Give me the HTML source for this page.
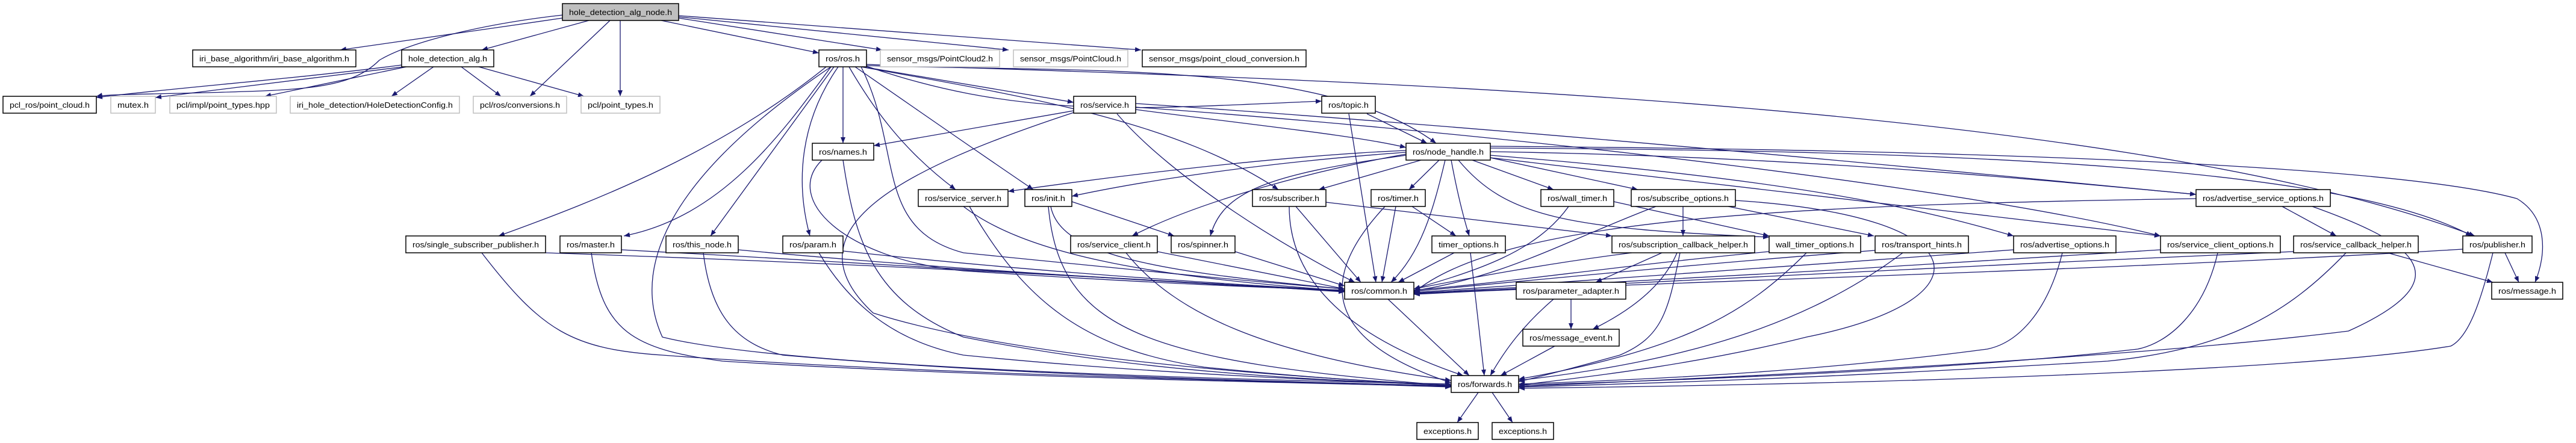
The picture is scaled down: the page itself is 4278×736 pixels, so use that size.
<!DOCTYPE html>
<html><head><meta charset="utf-8"><style>
html,body{margin:0;padding:0;background:#fff;}
svg{display:block;}
.e{fill:none;stroke:#191970;stroke-width:1.3;marker-end:url(#ah);}
.n rect{fill:#fff;stroke:#000;stroke-width:1.5;}
.g rect{fill:#fff;stroke:#bfbfbf;stroke-width:1.5;}
.t rect{fill:#bfbfbf;stroke:#000;stroke-width:1.5;}
text{font-family:"Liberation Sans",sans-serif;font-size:13px;fill:#000;text-anchor:middle;}
</style></head><body>
<svg width="4278" height="736" viewBox="0 0 4278 736" xmlns="http://www.w3.org/2000/svg">
<defs><marker id="ah" markerUnits="userSpaceOnUse" markerWidth="11" markerHeight="9" refX="10" refY="4" orient="auto"><path d="M0,0 L10,4 L0,8 z" fill="#191970"/></marker></defs>
<g>
<path class="e" d="M934 30 C800 50 650 70 565 83"/>
<path class="e" d="M978 34 L800 83"/>
<path class="e" d="M934 25 C800 40 680 70 630 100 C580 150 500 150 300 155 C200 157 170 158 160 160"/>
<path class="e" d="M1013 34 L880 160"/>
<path class="e" d="M1030 34 L1030 160"/>
<path class="e" d="M1098 34 L1360 88"/>
<path class="e" d="M1127 30 L1465 83"/>
<path class="e" d="M1127 28 L1675 83"/>
<path class="e" d="M1127 26 L1895 83"/>
<path class="e" d="M667 108 C500 130 300 145 160 162"/>
<path class="e" d="M670 111 L258 162"/>
<path class="e" d="M675 111 L440 160"/>
<path class="e" d="M720 111 L650 160"/>
<path class="e" d="M766 111 L832 160"/>
<path class="e" d="M795 111 L970 160"/>
<path class="e" d="M1372 111 C1200 250 1000 330 828 392"/>
<path class="e" d="M1380 111 C1300 220 1200 360 1036 392"/>
<path class="e" d="M1385 111 L1180 392"/>
<path class="e" d="M1400 111 L1400 238"/>
<path class="e" d="M1392 111 C1330 200 1320 300 1345 392"/>
<path class="e" d="M1410 111 C1450 180 1500 250 1587 315"/>
<path class="e" d="M1420 111 C1520 180 1620 250 1716 315"/>
<path class="e" d="M1439 112 L1783 170"/>
<path class="e" d="M1439 110 C1700 200 1900 180 2195 168"/>
<path class="e" d="M1439 109 C1800 120 2200 100 2385 238"/>
<path class="e" d="M1430 111 C1700 160 1950 200 2123 315"/>
<path class="e" d="M1439 107 C2100 130 3500 160 4110 392"/>
<path class="e" d="M1430 111 C1500 250 1450 380 1600 420 C1900 450 2100 470 2233 480"/>
<path class="e" d="M1380 111 C1100 300 1050 450 1100 560 C1300 610 2000 630 2410 638"/>
<path class="e" d="M1783 184 L1451 242"/>
<path class="e" d="M1886 182 C2100 210 2250 225 2335 245"/>
<path class="e" d="M1855 189 C1950 300 2150 420 2250 469"/>
<path class="e" d="M1783 187 C1500 280 1300 380 1450 520 C1700 600 2200 630 2410 640"/>
<path class="e" d="M1886 178 C2600 230 3300 320 3588 392"/>
<path class="e" d="M1886 172 C2600 220 3300 290 3647 323"/>
<path class="e" d="M2270 189 L2370 238"/>
<path class="e" d="M2240 189 L2285 469"/>
<path class="e" d="M1365 266 C1300 330 1400 430 1600 450 C1900 470 2100 478 2233 482"/>
<path class="e" d="M1400 266 C1420 400 1450 500 1600 560 C1900 620 2200 632 2410 640"/>
<path class="e" d="M2360 266 L2190 315"/>
<path class="e" d="M2390 266 L2340 315"/>
<path class="e" d="M2445 266 L2580 315"/>
<path class="e" d="M2475 262 L2720 315"/>
<path class="e" d="M2335 250 C2100 260 1800 300 1674 318"/>
<path class="e" d="M2335 253 C2100 270 1900 300 1780 326"/>
<path class="e" d="M2335 256 C2200 280 2000 330 1880 392"/>
<path class="e" d="M2335 258 C2100 290 2030 320 2010 392"/>
<path class="e" d="M2410 266 C2420 320 2430 360 2440 392"/>
<path class="e" d="M2422 266 C2500 360 2600 380 2938 394"/>
<path class="e" d="M2475 252 C3000 260 3400 300 3647 323"/>
<path class="e" d="M2475 258 C3000 300 3200 350 3344 392"/>
<path class="e" d="M2475 262 C3000 320 3300 360 3588 392"/>
<path class="e" d="M2475 246 C3300 250 3900 280 4105 392"/>
<path class="e" d="M2475 243 C3400 250 4000 280 4180 330 C4230 360 4230 420 4210 469"/>
<path class="e" d="M2400 266 C2380 350 2360 420 2310 469"/>
<path class="e" d="M1600 343 C1700 420 1900 460 2233 483"/>
<path class="e" d="M1610 343 C1700 500 1800 580 2000 610 C2200 630 2300 635 2410 640"/>
<path class="e" d="M1780 335 L1950 392"/>
<path class="e" d="M1745 343 C1760 420 1900 450 2233 480"/>
<path class="e" d="M1741 343 C1760 550 1900 600 2410 641"/>
<path class="e" d="M2202 336 L2677 392"/>
<path class="e" d="M2152 343 L2260 469"/>
<path class="e" d="M2141 343 C2141 500 2300 580 2430 624"/>
<path class="e" d="M2345 343 L2418 392"/>
<path class="e" d="M2318 343 L2295 469"/>
<path class="e" d="M2300 343 C2200 450 2180 560 2410 636"/>
<path class="e" d="M2680 335 L2938 392"/>
<path class="e" d="M2605 343 C2550 420 2450 450 2348 480"/>
<path class="e" d="M2795 343 L2795 392"/>
<path class="e" d="M2870 343 L3112 392"/>
<path class="e" d="M2750 343 C2600 400 2500 460 2348 483"/>
<path class="e" d="M2882 333 C3300 360 3300 500 3000 560 C2800 610 2600 630 2522 640"/>
<path class="e" d="M3790 343 L3880 392"/>
<path class="e" d="M3647 330 C3000 340 2500 360 2348 486"/>
<path class="e" d="M3840 343 C4000 400 4100 460 3900 550 C3500 600 2800 630 2522 642"/>
<path class="e" d="M906 420 C1500 440 2000 470 2233 485"/>
<path class="e" d="M800 420 C900 550 950 580 1100 590 C1500 620 2000 630 2410 643"/>
<path class="e" d="M1032 415 C1500 440 2000 470 2233 484"/>
<path class="e" d="M982 420 C1000 550 1050 580 1200 600 C1600 625 2100 635 2410 642"/>
<path class="e" d="M1226 415 C1600 450 2000 472 2233 484"/>
<path class="e" d="M1168 420 C1180 520 1220 570 1300 590 C1700 625 2100 633 2410 641"/>
<path class="e" d="M1400 417 C1700 450 2000 470 2233 483"/>
<path class="e" d="M1360 420 C1420 520 1500 570 1600 590 C1900 620 2200 632 2410 640"/>
<path class="e" d="M1922 418 L2233 480"/>
<path class="e" d="M1870 420 C1950 520 2100 590 2410 632"/>
<path class="e" d="M2051 418 L2233 475"/>
<path class="e" d="M2415 420 L2322 469"/>
<path class="e" d="M2442 420 L2465 624"/>
<path class="e" d="M2760 420 L2650 469"/>
<path class="e" d="M2785 420 C2760 480 2700 520 2645 547"/>
<path class="e" d="M2710 420 C2550 440 2400 470 2348 480"/>
<path class="e" d="M2790 420 C2770 520 2760 560 2690 590 C2600 615 2540 630 2522 634"/>
<path class="e" d="M2938 418 C2700 440 2500 470 2348 482"/>
<path class="e" d="M3000 420 C2900 520 2800 580 2522 630"/>
<path class="e" d="M3114 416 C2800 440 2500 470 2348 484"/>
<path class="e" d="M3160 420 C3000 540 2800 600 2522 632"/>
<path class="e" d="M3344 415 C3000 440 2600 470 2348 486"/>
<path class="e" d="M3425 420 C3400 520 3350 570 3300 580 C3000 620 2700 632 2522 638"/>
<path class="e" d="M3588 415 C3200 440 2700 470 2348 487"/>
<path class="e" d="M3683 420 C3660 520 3600 570 3550 580 C3200 620 2700 634 2522 640"/>
<path class="e" d="M3965 420 L4140 469"/>
<path class="e" d="M3809 418 C3300 440 2700 470 2348 488"/>
<path class="e" d="M3896 420 C3800 520 3700 580 3500 600 C3000 630 2700 638 2522 643"/>
<path class="e" d="M4160 420 L4183 469"/>
<path class="e" d="M4090 414 C3500 450 2700 470 2348 489"/>
<path class="e" d="M4140 420 C4120 500 4100 560 4070 575 C3800 620 3000 640 2522 645"/>
<path class="e" d="M2305 497 L2440 624"/>
<path class="e" d="M2609 497 L2609 547"/>
<path class="e" d="M2580 497 C2530 540 2500 580 2475 624"/>
<path class="e" d="M2582 575 L2492 624"/>
<path class="e" d="M2455 652 L2420 702"/>
<path class="e" d="M2478 652 L2512 702"/>
</g>
<g class="t"><rect x="934" y="6" width="193" height="28"/><text x="1030.5" y="25" textLength="171" lengthAdjust="spacingAndGlyphs">hole_detection_alg_node.h</text></g>
<g class="n"><rect x="320" y="83" width="271" height="28"/><text x="455.5" y="102" textLength="249" lengthAdjust="spacingAndGlyphs">iri_base_algorithm/iri_base_algorithm.h</text></g>
<g class="n"><rect x="667" y="83" width="153" height="28"/><text x="743.5" y="102" textLength="131" lengthAdjust="spacingAndGlyphs">hole_detection_alg.h</text></g>
<g class="n"><rect x="5" y="160" width="155" height="28"/><text x="82.5" y="179" textLength="133" lengthAdjust="spacingAndGlyphs">pcl_ros/point_cloud.h</text></g>
<g class="g"><rect x="184" y="160" width="74" height="28"/><text x="221" y="179" textLength="52" lengthAdjust="spacingAndGlyphs">mutex.h</text></g>
<g class="g"><rect x="282" y="160" width="177" height="28"/><text x="370.5" y="179" textLength="155" lengthAdjust="spacingAndGlyphs">pcl/impl/point_types.hpp</text></g>
<g class="g"><rect x="482" y="160" width="281" height="28"/><text x="622.5" y="179" textLength="259" lengthAdjust="spacingAndGlyphs">iri_hole_detection/HoleDetectionConfig.h</text></g>
<g class="g"><rect x="786" y="160" width="155" height="28"/><text x="863.5" y="179" textLength="133" lengthAdjust="spacingAndGlyphs">pcl/ros/conversions.h</text></g>
<g class="g"><rect x="965" y="160" width="131" height="28"/><text x="1030.5" y="179" textLength="109" lengthAdjust="spacingAndGlyphs">pcl/point_types.h</text></g>
<g class="n"><rect x="1360" y="83" width="79" height="28"/><text x="1399.5" y="102" textLength="57" lengthAdjust="spacingAndGlyphs">ros/ros.h</text></g>
<g class="g"><rect x="1462" y="83" width="198" height="28"/><text x="1561" y="102" textLength="176" lengthAdjust="spacingAndGlyphs">sensor_msgs/PointCloud2.h</text></g>
<g class="g"><rect x="1683" y="83" width="190" height="28"/><text x="1778" y="102" textLength="168" lengthAdjust="spacingAndGlyphs">sensor_msgs/PointCloud.h</text></g>
<g class="n"><rect x="1897" y="83" width="272" height="28"/><text x="2033" y="102" textLength="250" lengthAdjust="spacingAndGlyphs">sensor_msgs/point_cloud_conversion.h</text></g>
<g class="n"><rect x="1783" y="160" width="103" height="28"/><text x="1834.5" y="179" textLength="81" lengthAdjust="spacingAndGlyphs">ros/service.h</text></g>
<g class="n"><rect x="2195" y="160" width="89" height="28"/><text x="2239.5" y="179" textLength="67" lengthAdjust="spacingAndGlyphs">ros/topic.h</text></g>
<g class="n"><rect x="1349" y="238" width="102" height="28"/><text x="1400" y="257" textLength="80" lengthAdjust="spacingAndGlyphs">ros/names.h</text></g>
<g class="n"><rect x="2335" y="238" width="140" height="28"/><text x="2405" y="257" textLength="118" lengthAdjust="spacingAndGlyphs">ros/node_handle.h</text></g>
<g class="n"><rect x="1525" y="315" width="149" height="28"/><text x="1599.5" y="334" textLength="127" lengthAdjust="spacingAndGlyphs">ros/service_server.h</text></g>
<g class="n"><rect x="1702" y="315" width="78" height="28"/><text x="1741" y="334" textLength="56" lengthAdjust="spacingAndGlyphs">ros/init.h</text></g>
<g class="n"><rect x="2080" y="315" width="122" height="28"/><text x="2141" y="334" textLength="100" lengthAdjust="spacingAndGlyphs">ros/subscriber.h</text></g>
<g class="n"><rect x="2277" y="315" width="90" height="28"/><text x="2322" y="334" textLength="68" lengthAdjust="spacingAndGlyphs">ros/timer.h</text></g>
<g class="n"><rect x="2559" y="315" width="121" height="28"/><text x="2619.5" y="334" textLength="99" lengthAdjust="spacingAndGlyphs">ros/wall_timer.h</text></g>
<g class="n"><rect x="2709" y="315" width="173" height="28"/><text x="2795.5" y="334" textLength="151" lengthAdjust="spacingAndGlyphs">ros/subscribe_options.h</text></g>
<g class="n"><rect x="3647" y="315" width="223" height="28"/><text x="3758.5" y="334" textLength="201" lengthAdjust="spacingAndGlyphs">ros/advertise_service_options.h</text></g>
<g class="n"><rect x="674" y="392" width="232" height="28"/><text x="790" y="411" textLength="210" lengthAdjust="spacingAndGlyphs">ros/single_subscriber_publisher.h</text></g>
<g class="n"><rect x="930" y="392" width="102" height="28"/><text x="981" y="411" textLength="80" lengthAdjust="spacingAndGlyphs">ros/master.h</text></g>
<g class="n"><rect x="1106" y="392" width="120" height="28"/><text x="1166" y="411" textLength="98" lengthAdjust="spacingAndGlyphs">ros/this_node.h</text></g>
<g class="n"><rect x="1300" y="392" width="100" height="28"/><text x="1350" y="411" textLength="78" lengthAdjust="spacingAndGlyphs">ros/param.h</text></g>
<g class="n"><rect x="1778" y="392" width="144" height="28"/><text x="1850" y="411" textLength="122" lengthAdjust="spacingAndGlyphs">ros/service_client.h</text></g>
<g class="n"><rect x="1945" y="392" width="106" height="28"/><text x="1998" y="411" textLength="84" lengthAdjust="spacingAndGlyphs">ros/spinner.h</text></g>
<g class="n"><rect x="2378" y="392" width="122" height="28"/><text x="2439" y="411" textLength="100" lengthAdjust="spacingAndGlyphs">timer_options.h</text></g>
<g class="n"><rect x="2677" y="392" width="237" height="28"/><text x="2795.5" y="411" textLength="215" lengthAdjust="spacingAndGlyphs">ros/subscription_callback_helper.h</text></g>
<g class="n"><rect x="2938" y="392" width="152" height="28"/><text x="3014" y="411" textLength="130" lengthAdjust="spacingAndGlyphs">wall_timer_options.h</text></g>
<g class="n"><rect x="3114" y="392" width="155" height="28"/><text x="3191.5" y="411" textLength="133" lengthAdjust="spacingAndGlyphs">ros/transport_hints.h</text></g>
<g class="n"><rect x="3344" y="392" width="170" height="28"/><text x="3429" y="411" textLength="148" lengthAdjust="spacingAndGlyphs">ros/advertise_options.h</text></g>
<g class="n"><rect x="3588" y="392" width="199" height="28"/><text x="3687.5" y="411" textLength="177" lengthAdjust="spacingAndGlyphs">ros/service_client_options.h</text></g>
<g class="n"><rect x="3809" y="392" width="207" height="28"/><text x="3912.5" y="411" textLength="185" lengthAdjust="spacingAndGlyphs">ros/service_callback_helper.h</text></g>
<g class="n"><rect x="4090" y="392" width="115" height="28"/><text x="4147.5" y="411" textLength="93" lengthAdjust="spacingAndGlyphs">ros/publisher.h</text></g>
<g class="n"><rect x="2233" y="469" width="115" height="28"/><text x="2290.5" y="488" textLength="93" lengthAdjust="spacingAndGlyphs">ros/common.h</text></g>
<g class="n"><rect x="2518" y="469" width="182" height="28"/><text x="2609" y="488" textLength="160" lengthAdjust="spacingAndGlyphs">ros/parameter_adapter.h</text></g>
<g class="n"><rect x="4138" y="469" width="118" height="28"/><text x="4197" y="488" textLength="96" lengthAdjust="spacingAndGlyphs">ros/message.h</text></g>
<g class="n"><rect x="2529" y="547" width="160" height="28"/><text x="2609" y="566" textLength="138" lengthAdjust="spacingAndGlyphs">ros/message_event.h</text></g>
<g class="n"><rect x="2410" y="624" width="112" height="28"/><text x="2466" y="643" textLength="90" lengthAdjust="spacingAndGlyphs">ros/forwards.h</text></g>
<g class="n"><rect x="2353" y="702" width="102" height="28"/><text x="2404" y="721" textLength="80" lengthAdjust="spacingAndGlyphs">exceptions.h</text></g>
<g class="n"><rect x="2478" y="702" width="102" height="28"/><text x="2529" y="721" textLength="80" lengthAdjust="spacingAndGlyphs">exceptions.h</text></g>
</svg>
</body></html>
